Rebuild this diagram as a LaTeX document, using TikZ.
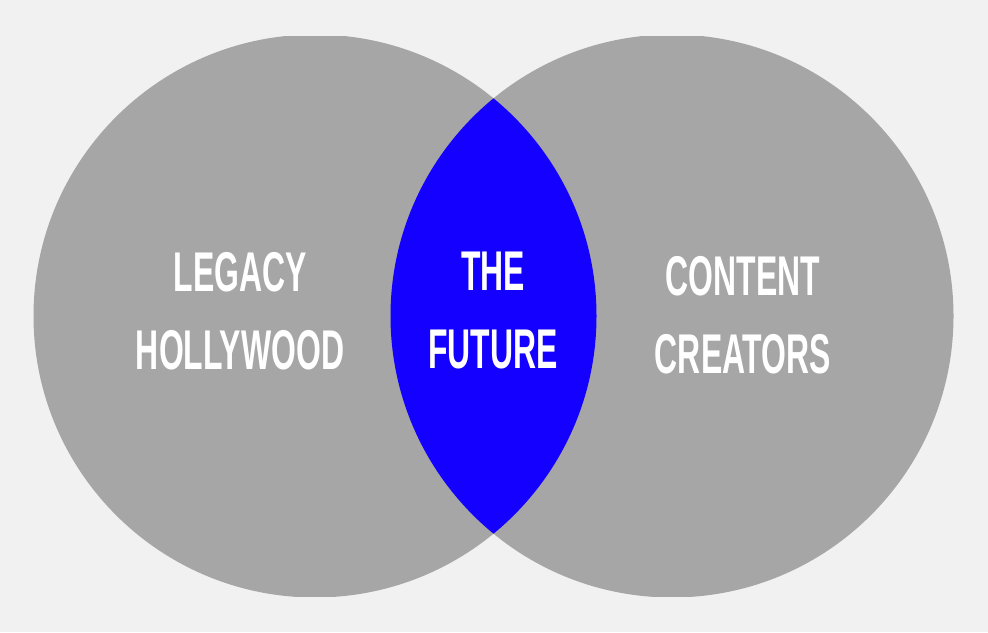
\documentclass[tikz,border=0pt]{standalone}
\usepackage{fontspec}
\newfontfamily\bebas[FakeStretch=0.57]{Liberation Sans}
\definecolor{bgcol}{HTML}{F1F1F1}
\definecolor{circcol}{HTML}{A6A6A6}
\definecolor{lenscol}{HTML}{1400FF}
\tikzset{
  label/.style={text=white, inner sep=0pt, align=center,
    font=\bebas\bfseries\fontsize{42}{58.5}\selectfont}
}
\begin{document}
\begin{tikzpicture}[x=0.75pt,y=-0.75pt]
\useasboundingbox (0,0) rectangle (988,632);
\fill[bgcol] (0,0) rectangle (988,632);
\begin{scope}
  \clip (0,36) rectangle (988,596);
  \fill[circcol] (315,316) circle[radius=211.125pt];
  \fill[circcol] (672,316) circle[radius=211.125pt];
  \begin{scope}
    \clip (315,316) circle[radius=211.125pt];
    \fill[lenscol] (672,316) circle[radius=211.125pt];
  \end{scope}
\end{scope}
\node[label] (legacy) at (240,311) {LEGACY\\HOLLYWOOD};
\node[label] (future) at (493,311) {THE\\FUTURE};
\node[label] (creators) at (743,315.5) {CONTENT\\CREATORS};
\end{tikzpicture}
\end{document}
